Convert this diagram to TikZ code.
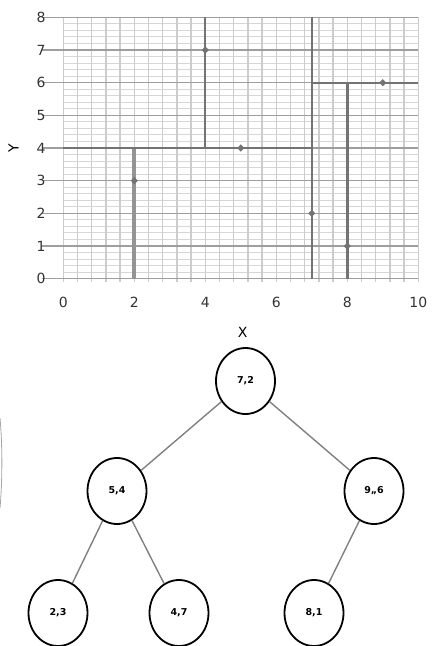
\documentclass[tikz,border=0pt]{standalone}
\usepackage{fontspec}
\setmainfont{DejaVu Sans}
\usetikzlibrary{shapes.geometric}
\begin{document}
\begin{tikzpicture}[x=1pt,y=-1pt,
  kdnode/.style={ellipse,draw,line width=1.8pt,minimum width=59pt,minimum height=66pt,inner sep=0pt,font=\fontsize{9.5}{11}\selectfont\bfseries},
  kdedge/.style={draw=black!50,line width=1.4pt},
  split/.style={draw=black!55,line width=2pt},
  ticklab/.style={text=black!80,font=\fontsize{14}{16}\selectfont}]
\useasboundingbox (0,0) rectangle (432,646);
\pgfmathsetmacro{\ox}{63.3}
\pgfmathsetmacro{\oy}{278.7}
\begin{scope}[shift={(\ox,\oy)},x=35.5pt,y=32.67pt]
\foreach \y in {0.2,0.4,...,7.9}\draw[black!16,line width=1pt](0,\y)--(10,\y);
\foreach \x in {0,0.4,...,10.1}\draw[black!20,line width=1.3pt](\x,-0.1)--(\x,8);
\foreach \y in {0,...,8}{\draw[black!38,line width=1.1pt](-0.6,\y)--(10,\y);
  \node[ticklab,anchor=east] at (-0.4,\y){\y};}
\foreach \x in {0,2,...,10}\node[ticklab,anchor=north] at (\x,-0.45){\x};
\node[ticklab,text=black,rotate=90] (ylab) at (-1.4,4){Y};
\node[ticklab,text=black] (xlab) at (5.05,-1.65){X};
% splitting lines
\draw[split,draw=black!42,line width=4pt](2,0)--(2,4);
\draw[split](0,4)--(7,4);
\draw[split](7,0)--(7,8);
\draw[split](4,4)--(4,8);
\draw[split](7,6)--(10,6);
\draw[split,line width=2.8pt](8,0)--(8,6);
\foreach \p in {(2,3),(4,7),(5,4),(7,2),(8,1),(9,6)}
  \fill[black!55] \p ++(-0.1,0)--++(0.1,0.11)--++(0.1,-0.11)--++(-0.1,-0.11)--cycle;
\end{scope}
% tree
\node[kdnode] (n72) at (245.5,381){7,2};
\node[kdnode] (n54) at (117,491){5,4};
\node[kdnode] (n96) at (374,491){9,,6};
\node[kdnode] (n23) at (58,613){2,3};
\node[kdnode] (n47) at (179,613){4,7};
\node[kdnode] (n81) at (314,613){8,1};
\draw[kdedge](n72)--(n54);
\draw[kdedge](n72)--(n96);
\draw[kdedge](n54)--(n23);
\draw[kdedge](n54)--(n47);
\draw[kdedge](n96)--(n81);
\draw[black!35,line width=0.8pt](0,418) .. controls (2.5,445) and (2.5,480) .. (0,508);
\end{tikzpicture}
\end{document}
